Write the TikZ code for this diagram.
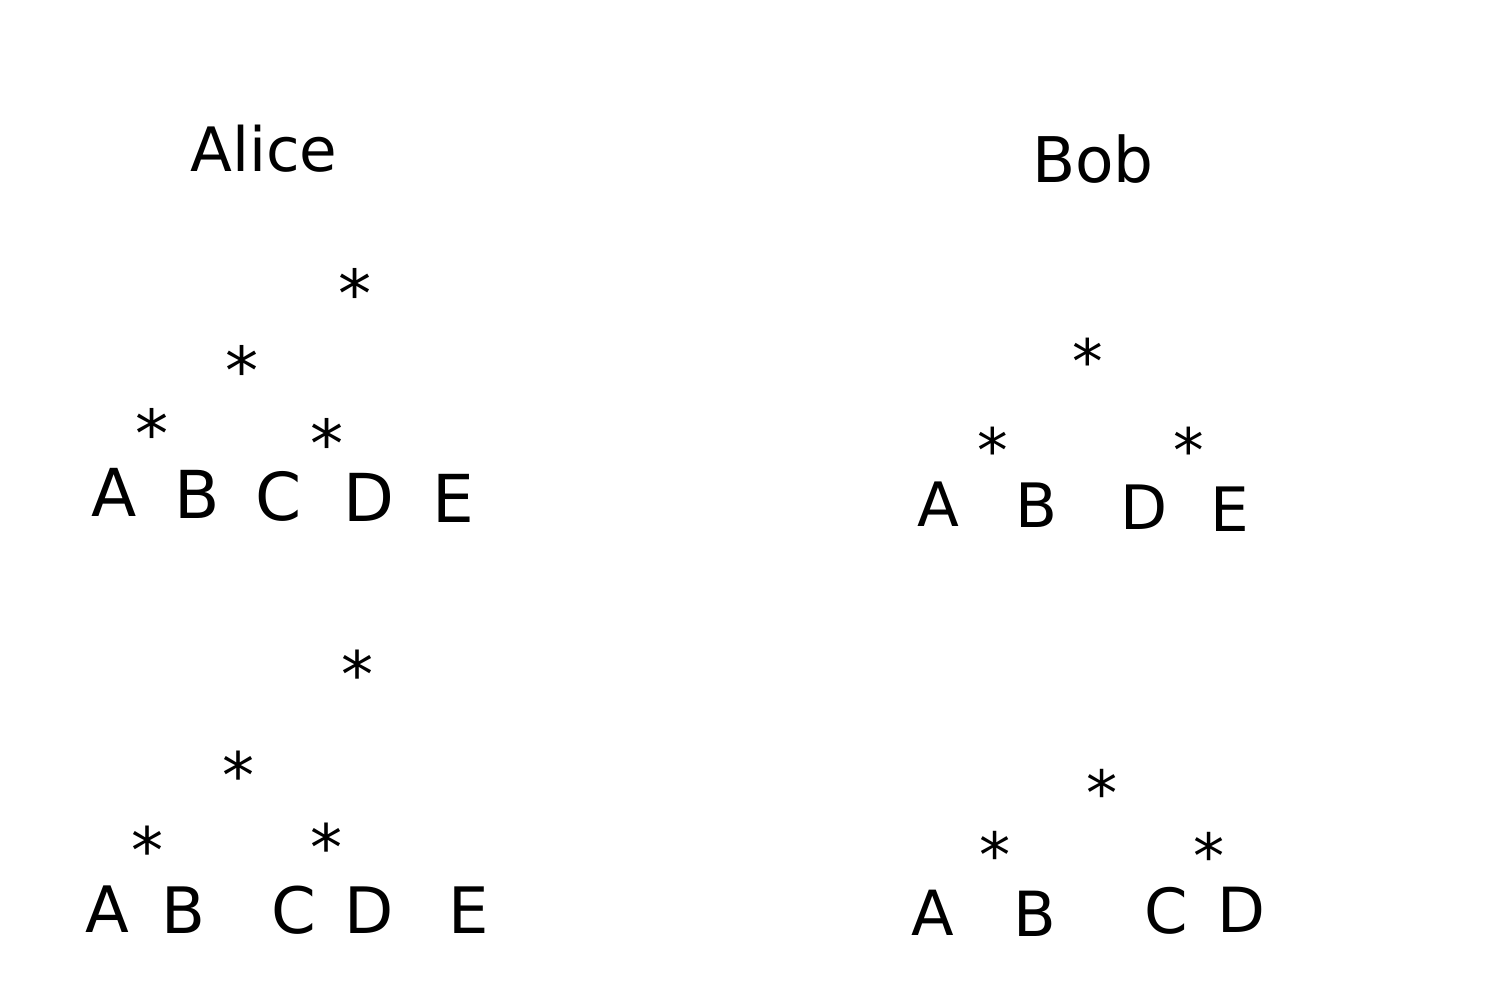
\documentclass[tikz,border=0pt]{standalone}
\usepackage{fontspec}
\setmainfont{DejaVu Sans}
\begin{document}
\begin{tikzpicture}[x=0.01cm,y=-0.01cm,
  lbl/.style={inner sep=0pt,outer sep=0pt,anchor=north},
  fa/.style={lbl,font=\fontsize{18.8pt}{20pt}\selectfont},
  fb/.style={lbl,font=\fontsize{18.2pt}{20pt}\selectfont},
  fc/.style={lbl,font=\fontsize{17.4pt}{20pt}\selectfont},
  fd/.style={lbl,font=\fontsize{17.7pt}{20pt}\selectfont},
  ttl/.style={lbl,font=\fontsize{17.4pt}{20pt}\selectfont},
  ttlb/.style={lbl,font=\fontsize{17.9pt}{20pt}\selectfont}]
\useasboundingbox (0,0) rectangle (1500,1000);
% titles
\node[ttl] (alice) at (264,125) {Alice};
\node[ttlb] (bob) at (1093,135) {Bob};
% tree 1
\node[fa] (t1s1) at (355.5,268) {*};
\node[fa] (t1s2) at (242.3,345) {*};
\node[fa] (t1s3) at (151.7,408) {*};
\node[fa] (t1s4) at (326.7,418) {*};
\node[fa] (t1A) at (113.8,468) {A};
\node[fa] (t1B) at (197,470.7) {B};
\node[fa] (t1C) at (279,471.7) {C};
\node[fa] (t1D) at (369,473) {D};
\node[fa] (t1E) at (453.8,474) {E};
% tree 2
\node[fb] (t2s1) at (357.7,650) {*};
\node[fb] (t2s2) at (238.7,751) {*};
\node[fb] (t2s3) at (147.5,825.7) {*};
\node[fb] (t2s4) at (326.3,822.7) {*};
\node[fb] (t2A) at (107.8,886) {A};
\node[fb] (t2B) at (183.3,887.3) {B};
\node[fb] (t2C) at (293.8,885.7) {C};
\node[fb] (t2D) at (369,887.3) {D};
\node[fb] (t2E) at (468.7,887.3) {E};
% tree 3
\node[fc] (t3s1) at (1087.7,338.3) {*};
\node[fc] (t3s2) at (992.5,426.7) {*};
\node[fc] (t3s3) at (1188.7,427.3) {*};
\node[fc] (t3A) at (938.2,482.3) {A};
\node[fc] (t3B) at (1036.3,483.3) {B};
\node[fc] (t3D) at (1144.3,485) {D};
\node[fc] (t3E) at (1230.3,486.7) {E};
% tree 4
\node[fd] (t4s1) at (1102.5,769.3) {*};
\node[fd] (t4s2) at (994.7,831.7) {*};
\node[fd] (t4s3) at (1208.7,832.7) {*};
\node[fd] (t4A) at (933,890) {A};
\node[fd] (t4B) at (1034.8,890.7) {B};
\node[fd] (t4C) at (1165.8,887.3) {C};
\node[fd] (t4D) at (1241,886.7) {D};
\end{tikzpicture}
\end{document}
